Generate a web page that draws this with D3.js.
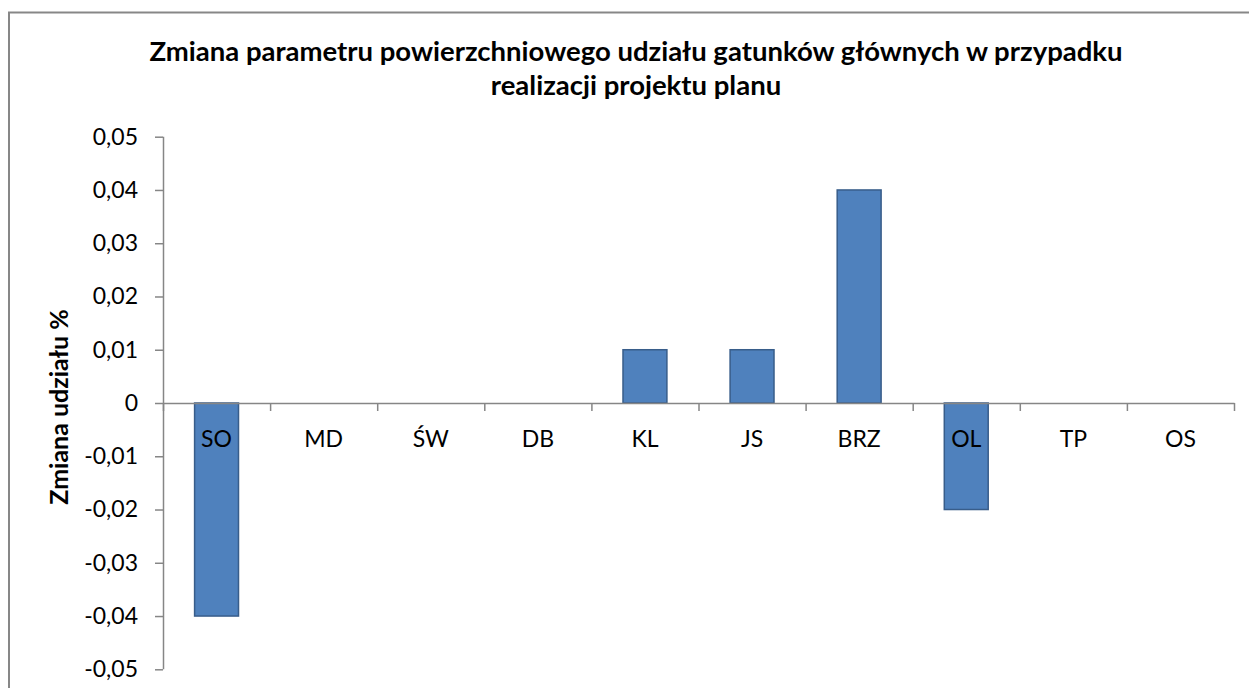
<!DOCTYPE html>
<html>
<head>
<meta charset="utf-8">
<script src="https://cdn.jsdelivr.net/npm/d3@7"></script>
<style>
  html, body { margin: 0; padding: 0; background: #fff; }
  svg { display: block; }
  .tick text { font-family: Lato, sans-serif; }
</style>
</head>
<body>
<div id="chart"></div>
<script>
// species codes and change of share
var categories = ["SO", "MD", "ŚW", "DB", "KL", "JS", "BRZ", "OL", "TP", "OS"];
var values = [-0.04, 0, 0, 0, 0.01, 0.01, 0.04, -0.02, 0, 0];
var yTicks = [-0.05, -0.04, -0.03, -0.02, -0.01, 0, 0.01, 0.02, 0.03, 0.04, 0.05];
var titleLines = ["Zmiana parametru powierzchniowego udziału gatunków głównych w przypadku",
                  "realizacji projektu planu"];
var yTitle = "Zmiana udziału %";

var W = 1249, H = 688;
var plot = {left: 163, right: 1234, top: 136.7, bottom: 669.3};

var svg = d3.select("#chart").append("svg")
    .attr("width", W)
    .attr("height", H);

// outer chart border (runs off right & bottom like the original)
svg.append("rect")
    .attr("x", 9).attr("y", 12.5)
    .attr("width", W + 20).attr("height", H + 20)
    .attr("fill", "#fff")
    .attr("stroke", "#878787")
    .attr("stroke-width", 2);

var y = d3.scaleLinear()
    .domain([-0.05, 0.05])
    .range([plot.bottom, plot.top]);

var x = d3.scaleBand()
    .domain(categories)
    .range([plot.left, plot.right])
    .paddingInner(0.59)
    .paddingOuter(0.295);

// index scale for the category boundary ticks
var xIdx = d3.scaleLinear()
    .domain([0, categories.length])
    .range([plot.left, plot.right]);

// title
svg.append("text")
    .attr("x", 636)
    .attr("text-anchor", "middle")
    .style("font-family", "Lato, sans-serif")
    .style("font-weight", "bold")
    .style("font-size", "27.5px")
    .selectAll("tspan")
    .data(titleLines)
    .enter().append("tspan")
    .attr("x", 636)
    .attr("y", function (d, i) { return 61 + i * 34; })
    .text(function (d) { return d; });

// bars
svg.selectAll(".bar")
    .data(values)
    .enter().append("rect")
    .attr("class", "bar")
    .attr("x", function (d, i) { return x(categories[i]); })
    .attr("width", x.bandwidth())
    .attr("y", function (d) { return y(Math.max(0, d)); })
    .attr("height", function (d) { return Math.abs(y(d) - y(0)); })
    .attr("fill", "#4F81BD")
    .attr("stroke", "#385D8A")
    .attr("stroke-width", 1.5);

// y axis
var fmt = function (d) {
    if (d === 0) return "0";
    return d3.format(".2f")(d).replace("−", "-").replace(".", ",");
};
var yAxis = svg.append("g")
    .attr("transform", "translate(" + plot.left + ",0)")
    .call(d3.axisLeft(y).tickValues(yTicks).tickFormat(fmt).tickSize(8).tickSizeOuter(0).tickPadding(17));
yAxis.selectAll("text").style("font-size", "23px").attr("fill", "#000");
yAxis.selectAll("line, path").attr("stroke", "#868686").attr("stroke-width", 1.5);
yAxis.select(".domain").attr("d", "M0.5," + plot.top + "V" + plot.bottom);

// x axis line at zero with boundary ticks
var xAxis = svg.append("g")
    .attr("transform", "translate(0," + y(0) + ")")
    .call(d3.axisBottom(xIdx).tickValues(d3.range(categories.length + 1)).tickFormat("").tickSize(8).tickSizeOuter(0));
xAxis.selectAll("line, path").attr("stroke", "#868686").attr("stroke-width", 1.5);

// category labels under the zero line
svg.selectAll(".cat")
    .data(categories)
    .enter().append("text")
    .attr("class", "cat")
    .attr("x", function (d) { return x(d) + x.bandwidth() / 2; })
    .attr("y", y(0) + 44)
    .attr("text-anchor", "middle")
    .style("font-family", "Lato, sans-serif")
    .style("font-size", "23px")
    .text(function (d) { return d; });

// y axis title
svg.append("text")
    .attr("transform", "translate(68," + ((plot.top + plot.bottom) / 2 + 4) + ") rotate(-90)")
    .attr("text-anchor", "middle")
    .style("font-family", "Lato, sans-serif")
    .style("font-weight", "bold")
    .style("font-size", "25px")
    .text(yTitle);
</script>
</body>
</html>
